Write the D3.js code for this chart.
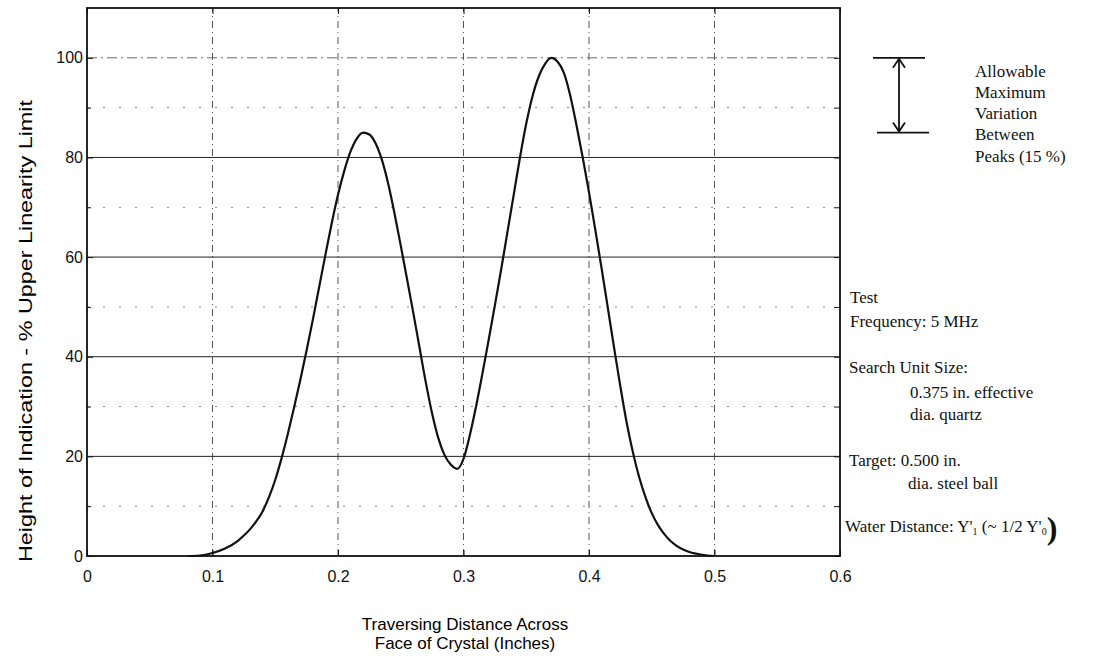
<!DOCTYPE html>
<html>
<head>
<meta charset="utf-8">
<script src="https://cdn.jsdelivr.net/npm/d3@7"></script>
<style>
  body { margin: 0; background: #fff; }
  svg { display: block; }
  .tick text { font-family: "Liberation Sans", Arial, sans-serif; font-size: 16px; fill: #111; }
  .note { font-family: "Liberation Serif", "Times New Roman", serif; font-size: 17px; fill: #111; }
</style>
</head>
<body>
<svg id="chart" width="1095" height="660"></svg>
<script>
// traversing distance (inches) and height of indication (% upper linearity limit)
var distance = [0.08, 0.09, 0.10, 0.11, 0.12, 0.125, 0.13, 0.135, 0.14, 0.145, 0.15, 0.155, 0.16, 0.165, 0.17,
  0.175, 0.18, 0.185, 0.19, 0.195, 0.20, 0.205, 0.21, 0.215, 0.22, 0.225, 0.23, 0.235, 0.24, 0.245,
  0.25, 0.255, 0.26, 0.265, 0.27, 0.275, 0.28, 0.285, 0.29, 0.295, 0.30, 0.305, 0.31, 0.315, 0.32,
  0.325, 0.33, 0.335, 0.34, 0.345, 0.35, 0.355, 0.36, 0.365, 0.37, 0.375, 0.38, 0.385, 0.39, 0.395,
  0.40, 0.405, 0.41, 0.415, 0.42, 0.425, 0.43, 0.435, 0.44, 0.445, 0.45, 0.455, 0.46, 0.465, 0.47,
  0.475, 0.48, 0.49, 0.50];
var height = [0, 0.1, 0.6, 1.5, 3.0, 4.1, 5.4, 7.0, 9.0, 11.8, 15.3, 19.6, 24.5, 29.8, 35.4,
  41.3, 47.5, 54.0, 60.5, 66.8, 72.5, 77.3, 81.2, 83.8, 85.0, 84.6, 82.8, 79.5, 74.7, 68.8,
  62.3, 55.6, 48.8, 41.8, 34.8, 28.6, 23.6, 20.2, 18.3, 17.5, 19.5, 24.2, 30.0, 36.5, 43.3,
  50.3, 57.5, 65.0, 72.5, 80.0, 86.8, 92.3, 96.3, 98.8, 100, 99.2, 97.0, 92.5, 86.5, 80.0,
  73.0, 65.5, 57.8, 49.8, 41.8, 34.0, 26.8, 20.8, 15.8, 11.8, 8.6, 6.2, 4.4, 3.0, 2.0,
  1.3, 0.8, 0.25, 0];

var xTicks = [0, 0.1, 0.2, 0.3, 0.4, 0.5, 0.6];
var yTicks = [0, 20, 40, 60, 80, 100];
var yMinor = [10, 30, 50, 70, 90];
var peakHigh = 100, peakLow = 85;

var margin = {top: 8, right: 255, bottom: 104, left: 87};
var W = 1095, H = 660;
var svg = d3.select('#chart');

var x = d3.scaleLinear().domain([0, 0.6]).range([margin.left, W - margin.right]);
var y = d3.scaleLinear().domain([0, 110]).range([H - margin.bottom, margin.top]);

var grid = svg.append('g');
// dotted vertical grid
grid.selectAll('line.v').data(xTicks.slice(1, -1)).enter().append('line')
    .attr('x1', d => x(d)).attr('x2', d => x(d))
    .attr('y1', y(0)).attr('y2', y(110))
    .attr('stroke', '#555').attr('stroke-width', 1)
    .attr('stroke-dasharray', '7,4,1,4');
// sparse dots at the odd tens
grid.selectAll('line.m').data(yMinor).enter().append('line')
    .attr('x1', x(0)).attr('x2', x(0.6))
    .attr('y1', d => y(d)).attr('y2', d => y(d))
    .attr('stroke', '#888').attr('stroke-width', 1)
    .attr('stroke-dasharray', '2,14');
// solid lines at 20..80, dash-dot at 100
grid.selectAll('line.h').data(yTicks.slice(1)).enter().append('line')
    .attr('x1', x(0)).attr('x2', x(0.6))
    .attr('y1', d => y(d)).attr('y2', d => y(d))
    .attr('stroke', d => d === 100 ? '#666' : '#222')
    .attr('stroke-width', 1)
    .attr('stroke-dasharray', d => d === 100 ? '10,4,2,4' : null);

// axes, ticks pointing inward
svg.append('g').attr('transform', 'translate(0,' + y(0) + ')')
    .call(d3.axisBottom(x).tickValues(xTicks).tickSize(-6).tickPadding(15).tickFormat(d => d === 0 ? '0' : d3.format('.1f')(d)))
    .call(g => g.select('.domain').remove());
svg.append('g').attr('transform', 'translate(' + x(0) + ',0)')
    .call(d3.axisLeft(y).tickValues(yTicks).tickSize(-6).tickPadding(4))
    .call(g => g.select('.domain').remove());
svg.append('g').attr('transform', 'translate(' + x(0) + ',0)')
    .call(d3.axisLeft(y).tickValues(yMinor).tickSize(-4).tickFormat(''))
    .call(g => g.select('.domain').remove());
svg.append('g').attr('transform', 'translate(' + x(0.6) + ',0)')
    .call(d3.axisRight(y).tickValues(yTicks.concat(yMinor)).tickSize(-6).tickFormat(''))
    .call(g => g.select('.domain').remove());
svg.append('g').attr('transform', 'translate(0,' + y(110) + ')')
    .call(d3.axisTop(x).tickValues(xTicks).tickSize(-6).tickFormat(''))
    .call(g => g.select('.domain').remove());
svg.selectAll('.tick line').attr('stroke', '#111');

svg.append('rect')
    .attr('x', x(0)).attr('y', y(110))
    .attr('width', x(0.6) - x(0)).attr('height', y(0) - y(110))
    .attr('fill', 'none').attr('stroke', '#111').attr('stroke-width', 1.8);

// the curve
var pts = distance.map((d, i) => [d, height[i]]);
svg.append('path').datum(pts)
    .attr('fill', 'none').attr('stroke', '#111').attr('stroke-width', 2.2)
    .attr('d', d3.line().x(d => x(d[0])).y(d => y(d[1])).curve(d3.curveMonotoneX));

// axis titles
svg.append('text')
    .attr('transform', 'translate(32,' + 331 + ') rotate(-90)')
    .attr('text-anchor', 'middle')
    .attr('textLength', 462).attr('lengthAdjust', 'spacingAndGlyphs')
    .style('font-family', '"Liberation Sans", Arial, sans-serif').style('font-size', '18px')
    .text('Height of Indication - % Upper Linearity Limit');
var xt = svg.append('text').attr('text-anchor', 'middle')
    .style('font-family', '"Liberation Sans", Arial, sans-serif').style('font-size', '17px');
xt.append('tspan').attr('x', 465).attr('y', 630).text('Traversing Distance Across');
xt.append('tspan').attr('x', 465).attr('y', 649).text('Face of Crystal (Inches)');

// allowable variation bracket
var bx = 899;
var br = svg.append('g').attr('stroke', '#111').attr('stroke-width', 1.8).attr('fill', 'none');
br.append('line').attr('x1', 873).attr('x2', 925).attr('y1', y(peakHigh)).attr('y2', y(peakHigh));
br.append('line').attr('x1', 877).attr('x2', 929).attr('y1', y(peakLow)).attr('y2', y(peakLow));
br.append('line').attr('x1', bx).attr('x2', bx).attr('y1', y(peakHigh) + 1).attr('y2', y(peakLow) - 1);
br.append('path').attr('d', 'M' + (bx - 6) + ',' + (y(peakHigh) + 10) + 'L' + bx + ',' + (y(peakHigh) + 1) + 'L' + (bx + 6) + ',' + (y(peakHigh) + 10));
br.append('path').attr('d', 'M' + (bx - 6) + ',' + (y(peakLow) - 10) + 'L' + bx + ',' + (y(peakLow) - 1) + 'L' + (bx + 6) + ',' + (y(peakLow) - 10));

var noteLines = [
  ['Allowable', 975, 77], ['Maximum', 975, 98], ['Variation', 975, 119], ['Between', 975, 140], ['Peaks (15 %)', 975, 162],
  ['Test', 850, 303], ['Frequency: 5 MHz', 850, 327],
  ['Search Unit Size:', 849, 373], ['0.375 in. effective', 910, 398], ['dia. quartz', 910, 420],
  ['Target: 0.500 in.', 849, 466], ['dia. steel ball', 908, 489]
];
svg.selectAll('text.note').data(noteLines).enter().append('text')
    .attr('class', 'note')
    .attr('x', d => d[1]).attr('y', d => d[2])
    .text(d => d[0]);

var wd = svg.append('text').attr('class', 'note').attr('x', 845).attr('y', 532);
wd.append('tspan').text("Water Distance: Y'");
wd.append('tspan').attr('dy', 3).style('font-size', '10px').text('1');
wd.append('tspan').attr('dy', -3).text(" (~ 1/2 Y'");
wd.append('tspan').attr('dy', 3).style('font-size', '10px').text('0');
wd.append('tspan').attr('dy', 4).style('font-size', '32px').style('font-weight', 'bold').text(')');
</script>
</body>
</html>
